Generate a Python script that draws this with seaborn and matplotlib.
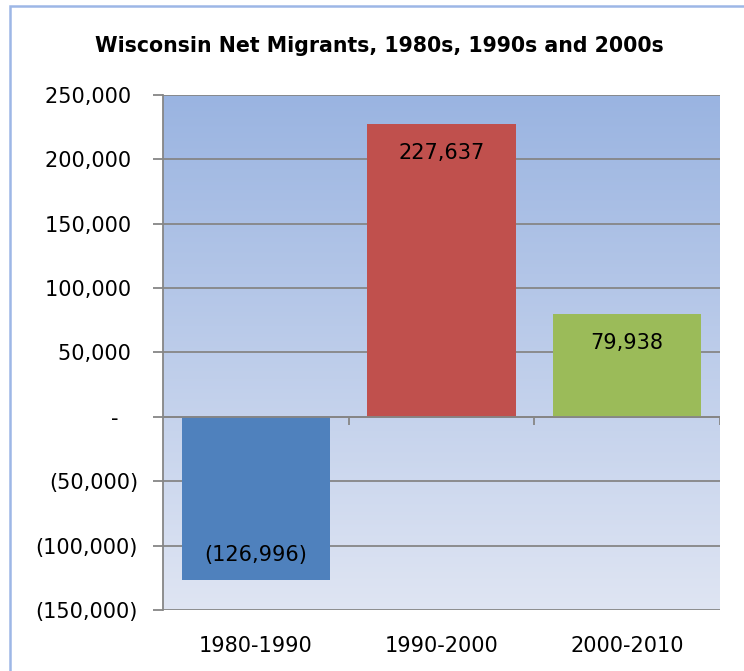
import numpy as np
import pandas as pd
import seaborn as sns
import matplotlib
matplotlib.use("Agg")
import matplotlib.pyplot as plt
from matplotlib.patches import Rectangle
from matplotlib.ticker import FuncFormatter
from matplotlib.colors import LinearSegmentedColormap

# ---- data ----
categories = ["1980-1990", "1990-2000", "2000-2010"]
net_migrants = [-126996, 227637, 79938]
bar_colors = ["#4F81BD", "#C0504D", "#9BBB59"]
title = "Wisconsin Net Migrants, 1980s, 1990s and 2000s"
y_ticks = [-150000, -100000, -50000, 0, 50000, 100000, 150000, 200000, 250000]

df = pd.DataFrame({"period": categories, "value": net_migrants})

sns.set_style("white")
plt.rcParams["font.family"] = ["DejaVu Sans"]

W, H = 744, 671
fig = plt.figure(figsize=(W / 100, H / 100), dpi=100)
fig.patch.set_facecolor("white")

# outer chart frame
fig.patches.append(Rectangle((10 / W, -0.1), 1.2, 1 - 6 / H + 0.1,
                             transform=fig.transFigure, fill=False,
                             edgecolor="#9DB7E6", linewidth=1.8))

ax = fig.add_axes([163 / W, 1 - 610 / H, (720 - 163) / W, (610 - 95) / H])

ymin, ymax = -150000, 250000
# gradient background
grad = LinearSegmentedColormap.from_list("g", ["#DFE5F3", "#9AB4E1"])
ax.imshow(np.linspace(0, 1, 256).reshape(-1, 1), cmap=grad, aspect="auto",
          extent=(-0.5, 2.5, ymin, ymax), origin="lower", zorder=0)

sns.barplot(data=df, x="period", y="value", hue="period", palette=bar_colors,
            width=0.8, saturation=1, legend=False, ax=ax, zorder=3,
            edgecolor="none", linewidth=0)

ax.set_xlim(-0.5, 2.5)
ax.set_ylim(ymin, ymax)
ax.set_yticks(y_ticks)


def acct(v, pos):
    if v == 0:
        return "-   "
    if v < 0:
        return f"({-v:,.0f})"
    return f"{v:,.0f} "


ax.yaxis.set_major_formatter(FuncFormatter(acct))
ax.grid(axis="y", color="#868686", linewidth=1.3, zorder=1)
ax.set_axisbelow(True)
for s in ["top", "right", "bottom"]:
    ax.spines[s].set_visible(False)
ax.spines["left"].set_color("#868686")
ax.spines["left"].set_linewidth(1.3)

FS = 15
ax.tick_params(axis="y", length=7.5, width=1.3, color="#868686", pad=10.5,
               labelsize=FS, labelcolor="black", left=True)
ax.tick_params(axis="x", length=0, pad=19, labelsize=FS, labelcolor="black")
ax.set_xlabel("")
ax.set_ylabel("")

# zero axis line with category-boundary ticks
ax.axhline(0, color="#868686", linewidth=1.3, zorder=4)
ax.vlines([0.5, 1.5, 2.5], 0, -6000, color="#868686", linewidth=1.3, zorder=4)

# data labels inside end
for i, v in enumerate(net_migrants):
    txt = f"({-v:,})" if v < 0 else f"{v:,}"
    off = 13.6 if v < 0 else -25.5
    ax.annotate(txt, xy=(i, v), xytext=(0, off), textcoords="offset points",
                ha="center", va="baseline", fontsize=FS, color="black",
                zorder=5)

fig.text(379 / W, 1 - 46 / H, title, ha="center", va="center", fontsize=14.8,
         fontweight="bold", color="black")

fig.savefig("out.png", dpi=100)
